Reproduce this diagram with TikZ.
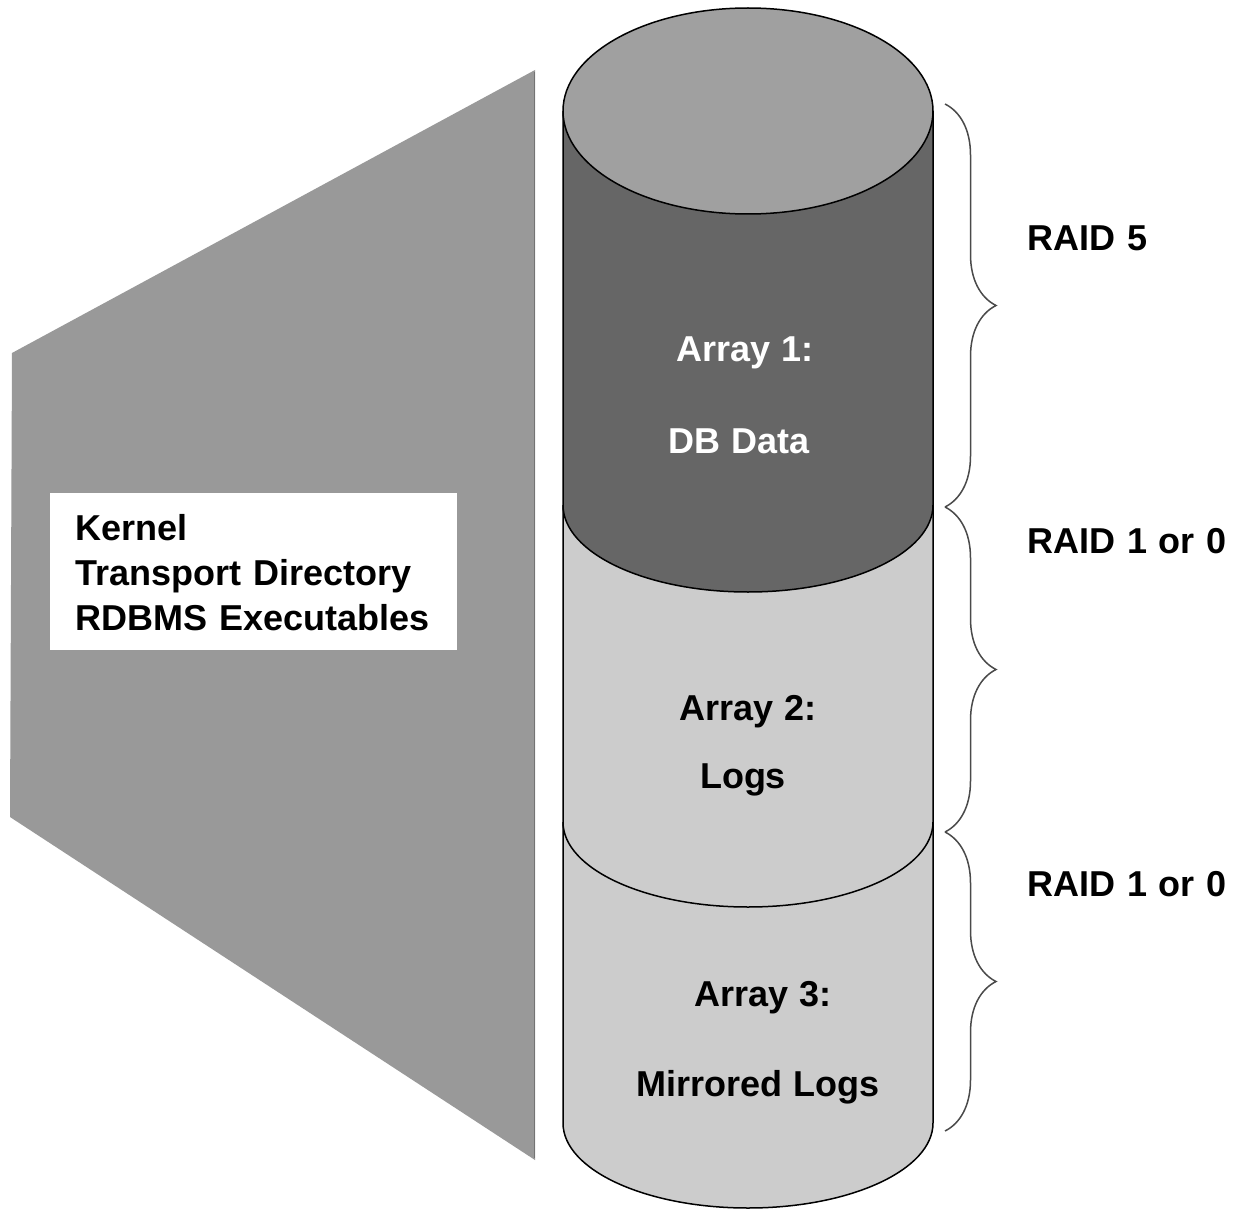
\documentclass[tikz,border=0pt]{standalone}
\usepackage{fontspec}
\setmainfont{Liberation Sans}
\usetikzlibrary{decorations.pathreplacing}
\definecolor{trapc}{HTML}{999999}
\definecolor{topc}{HTML}{A0A0A0}
\definecolor{darkc}{HTML}{666666}
\definecolor{lightc}{HTML}{CCCCCC}
\definecolor{bracec}{HTML}{4A4A4A}
\newcommand{\widespaces}{\spaceskip=0.33em\relax}
\begin{document}
\begin{tikzpicture}[x=1pt,y=-1pt,
  lbl/.style={font=\fontsize{36}{45}\selectfont\bfseries, inner sep=0pt, execute at begin node=\widespaces},
  brc/.style={draw=bracec, line width=1.5pt, decorate, decoration={brace, amplitude=51pt}},
  cyl/.style={draw=black, line width=1.5pt}]
\useasboundingbox (0,0) rectangle (1240,1209);
\fill[white] (0,0) rectangle (1240,1209);
% left panel
\fill[trapc] (12,353) -- (535,70) -- (535,1160) -- (10,817) -- cycle;
\draw[black!55, line width=1.2pt] (534.5,72) -- (534.5,1158);
\node (box) [fill=white, minimum width=407pt, minimum height=157pt, inner sep=0pt] at (253.5,571.5) {};
\node (kern) [lbl, anchor=west, align=left] at (75,573) {Kernel\\Transport Directory\\RDBMS Executables};
% cylinder: array 3
\filldraw[cyl, fill=lightc] (563,822) -- (563,1123) arc (180:0:185 and 85) -- (933,822);
% array 2
\filldraw[cyl, fill=lightc] (563,505) -- (563,822) arc (180:0:185 and 85) -- (933,505);
% array 1
\filldraw[cyl, fill=darkc] (563,111) -- (563,505) arc (180:0:185 and 87) -- (933,111);
% top
\filldraw[cyl, fill=topc] (748,111) ellipse (185 and 103);
% cylinder labels
\node (a1) [lbl, text=white] at (745,353) {Array 1:};
\node (a1b) [lbl, text=white] at (739,441) {DB Data};
\node (a2) [lbl] at (748,712) {Array 2:};
\node (a2b) [lbl] at (743,780) {Logs};
\node (a3) [lbl] at (763,998) {Array 3:};
\node (a3b) [lbl] at (758,1087) {Mirrored Logs};
% braces
\coordinate (b0) at (945,104);
\coordinate (b1) at (945,507);
\coordinate (b2) at (945,832);
\coordinate (b3) at (945,1131);
\draw[brc] (b0) -- (b1);
\draw[brc] (b1) -- (b2);
\draw[brc] (b2) -- (b3);
\node (r1) [lbl, anchor=west] at (1027,238) {RAID 5};
\node (r2) [lbl, anchor=west] at (1027,541) {RAID 1 or 0};
\node (r3) [lbl, anchor=west] at (1027,884) {RAID 1 or 0};
\end{tikzpicture}
\end{document}
